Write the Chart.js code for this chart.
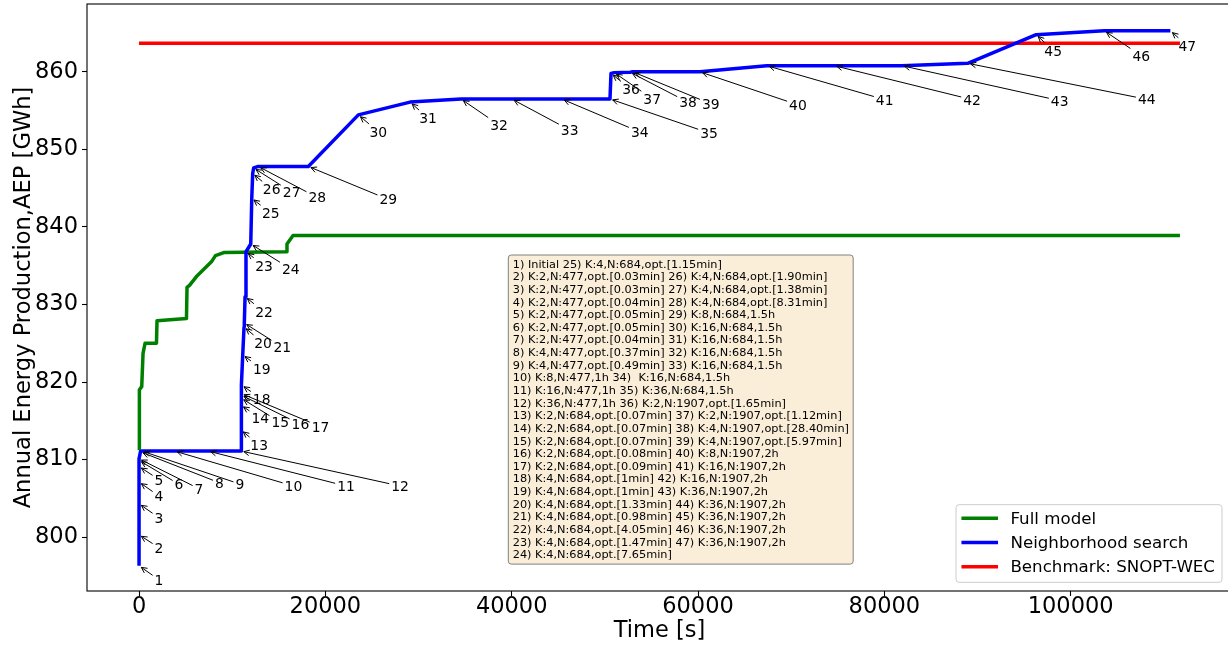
<!DOCTYPE html>
<html>
<head>
<meta charset="utf-8">
<script src="https://cdn.jsdelivr.net/npm/chart.js@4.4.1/dist/chart.umd.min.js"></script>
<style>
  html, body { margin: 0; padding: 0; background: #fff; overflow: hidden; }
  #wrap { position: relative; width: 1234px; height: 647px; }
</style>
</head>
<body>
<div id="wrap"><canvas id="c" width="1234" height="647"></canvas></div>
<script>
const FONT = "'DejaVu Sans', sans-serif";

const xTicks = [0, 20000, 40000, 60000, 80000, 100000];
const yTicks = [800, 810, 820, 830, 840, 850, 860];

// Full model
const fullTime = [0, 0, 75, 290, 430, 645, 1870, 1930, 5090, 5150, 5440, 6160, 7770, 8200, 9090, 15820, 15880, 16530, 111730];
const fullAEP  = [811.2, 813.4, 819.0, 819.4, 823.7, 825.0, 825.0, 827.9, 828.2, 832.2, 832.5, 833.6, 835.5, 836.3, 836.7, 836.8, 837.8, 838.9, 838.9];

// Neighborhood search, points 1..47
const nsTime = [0, 0, 0, 0, 0, 0, 0, 150, 300, 3800, 7400, 10950,
  10960, 10970, 10980, 10990, 11000, 11020, 11130, 11270, 11300, 11380, 11480, 11990,
  12100, 12200, 12300, 12800, 18170, 23540, 29090, 34560, 40000, 45370, 50550,
  50660, 51000, 52700, 53000, 60200, 67370, 74600, 81860, 88950, 96300, 103600, 110700];
const nsAEP = [796.3, 800.3, 804.3, 807.1, 809.1, 809.9, 810.1, 811.0, 811.1, 811.1, 811.1, 811.1,
  813.8, 817.0, 817.9, 818.3, 818.5, 819.6, 823.5, 827.1, 827.6, 831.0, 836.8, 837.8,
  843.7, 846.9, 847.6, 847.8, 847.8, 854.45, 856.1, 856.5, 856.5, 856.5, 856.5,
  859.8, 859.9, 859.95, 860.0, 860.0, 860.8, 860.8, 860.8, 861.1, 864.8, 865.3, 865.3];

// Benchmark: SNOPT-WEC
const benchTime = [0, 111730];
const benchAEP = [863.7, 863.7];

// where each point number sits, in pixels from its point
const labelOffsets = [
  [20, 14], [20, 13], [20, 14], [20, 14], [20, 13], [40, 24], [60, 30], [79, 31], [98, 33], [119, 35],
  [138, 35], [159, 35], [18, 15], [19, 13], [39, 24], [59, 29], [79, 33], [20, 14], [19, 14], [19, 16],
  [38, 24], [19, 15], [18, 14], [40, 25], [19, 15], [19, 16], [38, 24], [59, 31], [80, 33], [20, 17],
  [18, 16], [38, 26], [58, 31], [78, 33], [99, 34], [20, 16], [38, 26], [58, 30], [78, 32], [98, 33],
  [118, 34], [138, 34], [158, 35], [179, 36], [17, 16], [37, 25], [17, 15]
];

const boxLines = [
  '1) Initial 25) K:4,N:684,opt.[1.15min]',
  '2) K:2,N:477,opt.[0.03min] 26) K:4,N:684,opt.[1.90min]',
  '3) K:2,N:477,opt.[0.03min] 27) K:4,N:684,opt.[1.38min]',
  '4) K:2,N:477,opt.[0.04min] 28) K:4,N:684,opt.[8.31min]',
  '5) K:2,N:477,opt.[0.05min] 29) K:8,N:684,1.5h',
  '6) K:2,N:477,opt.[0.05min] 30) K:16,N:684,1.5h',
  '7) K:2,N:477,opt.[0.04min] 31) K:16,N:684,1.5h',
  '8) K:4,N:477,opt.[0.37min] 32) K:16,N:684,1.5h',
  '9) K:4,N:477,opt.[0.49min] 33) K:16,N:684,1.5h',
  '10) K:8,N:477,1h 34)  K:16,N:684,1.5h',
  '11) K:16,N:477,1h 35) K:36,N:684,1.5h',
  '12) K:36,N:477,1h 36) K:2,N:1907,opt.[1.65min]',
  '13) K:2,N:684,opt.[0.07min] 37) K:2,N:1907,opt.[1.12min]',
  '14) K:2,N:684,opt.[0.07min] 38) K:4,N:1907,opt.[28.40min]',
  '15) K:2,N:684,opt.[0.07min] 39) K:4,N:1907,opt.[5.97min]',
  '16) K:2,N:684,opt.[0.08min] 40) K:8,N:1907,2h',
  '17) K:2,N:684,opt.[0.09min] 41) K:16,N:1907,2h',
  '18) K:4,N:684,opt.[1min] 42) K:16,N:1907,2h',
  '19) K:4,N:684,opt.[1min] 43) K:36,N:1907,2h',
  '20) K:4,N:684,opt.[1.33min] 44) K:36,N:1907,2h',
  '21) K:4,N:684,opt.[0.98min] 45) K:36,N:1907,2h',
  '22) K:4,N:684,opt.[4.05min] 46) K:36,N:1907,2h',
  '23) K:4,N:684,opt.[1.47min] 47) K:36,N:1907,2h',
  '24) K:4,N:684,opt.[7.65min]'
];

const legendItems = [
  { label: 'Full model', color: '#008000' },
  { label: 'Neighborhood search', color: '#0000ff' },
  { label: 'Benchmark: SNOPT-WEC', color: '#ff0000' },
];

const toXY = (xs, ys) => xs.map((x, i) => ({ x, y: ys[i] }));

function roundRect(ctx, x, y, w, h, r) {
  ctx.beginPath();
  ctx.moveTo(x + r, y);
  ctx.lineTo(x + w - r, y);
  ctx.arcTo(x + w, y, x + w, y + r, r);
  ctx.lineTo(x + w, y + h - r);
  ctx.arcTo(x + w, y + h, x + w - r, y + h, r);
  ctx.lineTo(x + r, y + h);
  ctx.arcTo(x, y + h, x, y + h - r, r);
  ctx.lineTo(x, y + r);
  ctx.arcTo(x, y, x + r, y, r);
  ctx.closePath();
}

const framePlugin = {
  id: 'frame',
  afterDraw(chart) {
    const { ctx, chartArea: a } = chart;
    ctx.save();
    ctx.strokeStyle = '#000';
    ctx.lineWidth = 1.1;
    ctx.strokeRect(a.left, a.top, a.right - a.left, a.bottom - a.top);
    ctx.restore();
  }
};

const annotatePlugin = {
  id: 'annotate',
  afterDatasetsDraw(chart) {
    const ctx = chart.ctx;
    const meta = chart.getDatasetMeta(1);
    ctx.save();
    ctx.font = `13.9px ${FONT}`;
    ctx.fillStyle = '#000';
    ctx.strokeStyle = '#000';
    ctx.lineWidth = 1;
    meta.data.forEach((pt, i) => {
      const [dx, dy] = labelOffsets[i];
      const tx = pt.x + dx, ty = pt.y + dy;
      const label = String(i + 1);
      const w = ctx.measureText(label).width;
      const len = Math.hypot(dx, dy);
      const ux = dx / len, uy = dy / len;
      const edge = Math.min((w / 2 + 2) / Math.abs(ux), 8 / Math.abs(uy));
      const sx = tx - ux * edge, sy = ty - uy * edge;
      const ex = pt.x + ux * 2.8, ey = pt.y + uy * 2.8;
      ctx.beginPath();
      ctx.moveTo(sx, sy);
      ctx.lineTo(ex, ey);
      ctx.stroke();
      const hl = 5.6, hw = 2.8;
      ctx.beginPath();
      ctx.moveTo(ex + ux * hl - uy * hw, ey + uy * hl + ux * hw);
      ctx.lineTo(ex, ey);
      ctx.lineTo(ex + ux * hl + uy * hw, ey + uy * hl - ux * hw);
      ctx.stroke();
      ctx.textAlign = 'center';
      ctx.textBaseline = 'alphabetic';
      ctx.fillText(label, tx, ty + 5);
    });
    ctx.restore();
  }
};

const boxPlugin = {
  id: 'infoBox',
  afterDraw(chart) {
    const { ctx, chartArea: a } = chart;
    const w = a.right - a.left, h = a.bottom - a.top;
    const textLeft = a.left + 0.3718 * w;
    const top = a.top + 0.4276 * h;
    const lineH = 12.63;
    ctx.save();
    ctx.font = `11.3px ${FONT}`;
    const maxW = Math.max(...boxLines.map(s => ctx.measureText(s).width));
    const bx = textLeft - 4.4, bw = maxW + 8.6;
    const bh = boxLines.length * lineH + 6;
    roundRect(ctx, bx, top, bw, bh, 3);
    ctx.fillStyle = 'rgb(250,238,217)';
    ctx.fill();
    ctx.strokeStyle = '#808080';
    ctx.lineWidth = 1;
    ctx.stroke();
    ctx.fillStyle = '#000';
    ctx.textAlign = 'left';
    ctx.textBaseline = 'alphabetic';
    boxLines.forEach((s, i) => ctx.fillText(s, textLeft, top + 12.7 + i * lineH));
    ctx.restore();
  }
};

const legendPlugin = {
  id: 'cornerLegend',
  afterDraw(chart) {
    const { ctx, chartArea: a } = chart;
    ctx.save();
    ctx.font = `16.67px ${FONT}`;
    const maxW = Math.max(...legendItems.map(it => ctx.measureText(it.label).width));
    const bw = 54.4 + maxW + 7;
    const bh = 77.6;
    const right = a.right - 10, bottom = a.bottom - 8.7;
    const left = right - bw, top = bottom - bh;
    roundRect(ctx, left, top, bw, bh, 3);
    ctx.fillStyle = 'rgba(255,255,255,0.8)';
    ctx.fill();
    ctx.strokeStyle = '#cccccc';
    ctx.lineWidth = 1;
    ctx.stroke();
    legendItems.forEach((it, i) => {
      const y = top + 13.6 + i * 24.2;
      ctx.strokeStyle = it.color;
      ctx.lineWidth = 3.5;
      ctx.beginPath();
      ctx.moveTo(left + 5.4, y);
      ctx.lineTo(left + 42, y);
      ctx.stroke();
      ctx.fillStyle = '#000';
      ctx.textAlign = 'left';
      ctx.textBaseline = 'middle';
      ctx.fillText(it.label, left + 54.4, y + 1);
    });
    ctx.restore();
  }
};

const tickFont = { family: FONT, size: 22.5, lineHeight: 1 };

new Chart(document.getElementById('c'), {
  type: 'line',
  data: {
    datasets: [
      {
        label: 'Full model',
        data: toXY(fullTime, fullAEP),
        borderColor: '#008000',
        borderWidth: 3.5,
        pointRadius: 0,
        borderJoinStyle: 'round',
        order: 1,
      },
      {
        label: 'Neighborhood search',
        data: toXY(nsTime, nsAEP),
        borderColor: '#0000ff',
        borderWidth: 3.5,
        pointRadius: 0,
        borderJoinStyle: 'round',
        order: 0,
      },
      {
        label: 'Benchmark: SNOPT-WEC',
        data: toXY(benchTime, benchAEP),
        borderColor: '#ff0000',
        borderWidth: 3.5,
        pointRadius: 0,
        order: 2,
      },
    ]
  },
  options: {
    responsive: false,
    animation: false,
    devicePixelRatio: 1,
    layout: { padding: { top: 4, right: 2, left: 0, bottom: 0 } },
    plugins: { legend: { display: false }, tooltip: { enabled: false } },
    scales: {
      x: {
        type: 'linear',
        min: -5586,
        max: 117316,
        afterBuildTicks: s => { s.ticks = xTicks.map(v => ({ value: v })); },
        afterFit: s => { s.height = 56; s.paddingLeft = 0; s.paddingRight = 0; },
        ticks: { font: tickFont, color: '#000', padding: 0, maxRotation: 0, autoSkip: false, callback: v => String(v) },
        grid: { drawOnChartArea: false, drawTicks: true, tickLength: 5, tickColor: '#000', tickWidth: 1.1 },
        border: { display: false },
        title: { display: true, text: 'Time [s]', color: '#000', font: { family: FONT, size: 22.5 }, padding: { top: 0, bottom: 2.5 } },
      },
      y: {
        type: 'linear',
        min: 793.05,
        max: 868.75,
        afterBuildTicks: s => { s.ticks = yTicks.map(v => ({ value: v })); },
        afterFit: s => { s.width = 87; s.paddingTop = 0; s.paddingBottom = 0; },
        ticks: { font: tickFont, color: '#000', padding: 4, autoSkip: false, callback: v => String(v) },
        grid: { drawOnChartArea: false, drawTicks: true, tickLength: 5, tickColor: '#000', tickWidth: 1.1 },
        border: { display: false },
        title: { display: true, text: 'Annual Energy Production,AEP [GWh]', color: '#000', font: { family: FONT, size: 22.6 }, padding: { top: 10.7, bottom: 0 } },
      }
    }
  },
  plugins: [annotatePlugin, framePlugin, boxPlugin, legendPlugin]
});
</script>
</body>
</html>
